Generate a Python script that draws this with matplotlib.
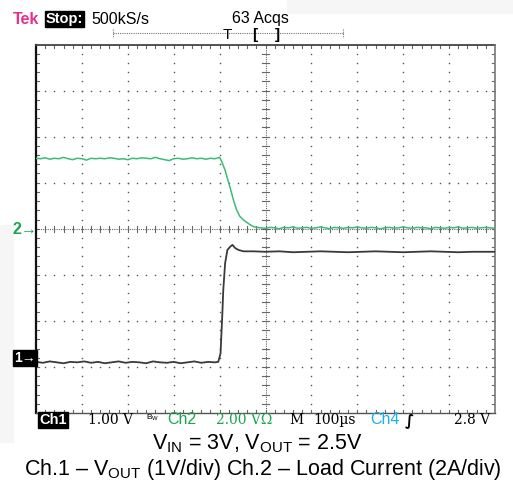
import matplotlib
matplotlib.use("Agg")
import matplotlib.pyplot as plt
import numpy as np

W, H = 513, 484
plt.rcParams['font.family'] = ['Liberation Sans', 'DejaVu Sans']
plt.rcParams['mathtext.fontset'] = 'custom'
plt.rcParams['mathtext.rm'] = 'Liberation Sans'
plt.rcParams['mathtext.it'] = 'Liberation Sans'

# ---- traces, in screen divisions (x: 0..10, y: -4..4, centre = 0)
ch2_t = [0.0, 0.1, 0.2, 0.3, 0.4, 0.5, 0.6, 0.7, 0.8, 0.9, 1.0, 1.1, 1.2, 1.3,
         1.4, 1.5, 1.6, 1.7, 1.8, 1.9, 2.0, 2.1, 2.2, 2.3, 2.4, 2.5, 2.6, 2.7,
         2.8, 2.9, 3.0, 3.1, 3.2, 3.3, 3.4, 3.5, 3.6, 3.7, 3.8, 3.9, 4.0,
         4.05, 4.12, 4.18, 4.23, 4.30, 4.37, 4.44, 4.52, 4.59, 4.66, 4.73, 4.80,
         4.9, 5.0, 5.1, 5.2, 5.3, 5.4, 5.5, 5.6, 5.7, 5.8, 5.9, 6.0, 6.1, 6.2,
         6.3, 6.4, 6.5, 6.6, 6.7, 6.8, 6.9, 7.0, 7.1, 7.2, 7.3, 7.4, 7.5, 7.6,
         7.7, 7.8, 7.9, 8.0, 8.1, 8.2, 8.3, 8.4, 8.5, 8.6, 8.7, 8.8, 8.9, 9.0,
         9.1, 9.2, 9.3, 9.4, 9.5, 9.6, 9.7, 9.8, 9.9, 10.0]
ch2_v = [1.53, 1.52, 1.54, 1.51, 1.53, 1.52, 1.55, 1.52, 1.50, 1.53, 1.52, 1.49,
         1.53, 1.52, 1.53, 1.52, 1.54, 1.53, 1.51, 1.52, 1.50, 1.53, 1.52, 1.54,
         1.53, 1.52, 1.55, 1.52, 1.50, 1.48, 1.52, 1.53, 1.51, 1.52, 1.54, 1.52,
         1.53, 1.51, 1.53, 1.52, 1.55,
         1.45, 1.27, 1.06, 0.89, 0.63, 0.41, 0.27, 0.19, 0.14, 0.09, 0.05, 0.03,
         0.02, 0.01, 0.03, 0.02, 0.00, 0.03, 0.02, 0.04, 0.01, 0.02, 0.03, 0.01,
         0.02, 0.04, 0.02, 0.00, 0.03, 0.02, 0.01, 0.03, 0.02, 0.04, 0.02, 0.01,
         0.03, 0.02, 0.00, 0.02, 0.03, 0.01, 0.02, 0.04, 0.02, 0.01, 0.03, 0.02,
         0.02, 0.00, 0.03, 0.02, 0.01, 0.03, 0.02, 0.04, 0.01, 0.02, 0.03, 0.01,
         0.02, 0.03, 0.02, 0.01]

ch1_t = [0.0, 0.15, 0.3, 0.45, 0.6, 0.75, 0.9, 1.05, 1.2, 1.35, 1.5, 1.65, 1.8,
         1.95, 2.1, 2.25, 2.4, 2.55, 2.7, 2.85, 3.0, 3.15, 3.3, 3.45, 3.6, 3.75,
         3.9, 3.97,
         4.02, 4.06, 4.08, 4.12, 4.17, 4.23, 4.28, 4.34, 4.41, 4.52, 4.73,
         5.0, 5.3, 5.6, 5.9, 6.2, 6.5, 6.8, 7.1, 7.4, 7.7, 8.0, 8.3, 8.6, 8.9,
         9.2, 9.5, 9.8, 10.0]
ch1_v = [-2.89, -2.91, -2.88, -2.90, -2.92, -2.89, -2.90, -2.88, -2.91, -2.89,
         -2.92, -2.90, -2.88, -2.91, -2.89, -2.90, -2.92, -2.88, -2.90, -2.91,
         -2.89, -2.92, -2.90, -2.88, -2.91, -2.89, -2.90, -2.89,
         -2.71, -1.84, -1.33, -0.75, -0.46, -0.39, -0.35, -0.42, -0.46, -0.49,
         -0.49,
         -0.50, -0.49, -0.51, -0.50, -0.49, -0.50, -0.51, -0.50, -0.49, -0.50,
         -0.51, -0.50, -0.49, -0.50, -0.51, -0.50, -0.50, -0.50]

ch2_color = '#3dbb78'
ch1_color = '#3a3a3a'

fig = plt.figure(figsize=(W / 100, H / 100), dpi=100)
fig.patch.set_facecolor('white')

def px(x, y):
    return x / W, 1 - y / H

# light gray background patches of the screenshot
fig.patches.append(plt.Rectangle(px(287, 13), (W - 287) / W, 13 / H, transform=fig.transFigure,
                                 color='#f6f6f6', zorder=0))
fig.patches.append(plt.Rectangle(px(0, 442), 13 / W, (442 - 225) / H, transform=fig.transFigure,
                                 color='#f6f6f6', zorder=0))

left, top, right, bottom = 36, 44.5, 495, 413
ax = fig.add_axes([left / W, 1 - bottom / H, (right - left) / W, (bottom - top) / H])
ax.set_xlim(0, 10)
ax.set_ylim(-4, 4)
ax.axis('off')

# graticule
dot = dict(ls='none', marker='s', ms=1.0, mew=0, color='#555555')
sub_x = np.arange(0, 10.01, 0.2)
sub_y = np.arange(-4, 4.01, 0.2)
for gx in range(1, 10):
    if gx == 5:
        continue
    ax.plot(np.full_like(sub_y, gx), sub_y, **dot)
for gy in range(-3, 4):
    if gy == 0:
        continue
    ax.plot(sub_x, np.full_like(sub_x, gy), **dot)
# centre lines, dense dots with ticks
ax.plot([5, 5], [-4, 4], color='#666666', lw=0.8, ls=(0, (1, 1)))
ax.plot([0, 10], [0, 0], color='#666666', lw=0.8, ls=(0, (1, 1)))
tk = 0.07
for s in sub_y:
    ax.plot([5 - tk, 5 + tk], [s, s], color='#666666', lw=0.8)
for s in sub_x:
    ax.plot([s, s], [-tk, tk], color='#666666', lw=0.8)
# border ticks
for s in sub_y:
    ax.plot([0, tk], [s, s], color='#666666', lw=0.8)
    ax.plot([10 - tk, 10], [s, s], color='#666666', lw=0.8)
for s in sub_x:
    ax.plot([s, s], [4 - tk, 4], color='#666666', lw=0.8)
    ax.plot([s, s], [-4, -4 + tk], color='#666666', lw=0.8)
# border
ax.plot([0, 0], [-4, 4], color='#111111', lw=1.6, clip_on=False)
ax.plot([0, 10], [4, 4], color='#444444', lw=1.3, clip_on=False)
ax.plot([10, 10], [-4, 4], color='#777777', lw=1.2, clip_on=False)
ax.plot([0, 10], [-4, -4], color='#555555', lw=1.0, clip_on=False)

# traces
ax.plot(ch2_t, ch2_v, color=ch2_color, lw=1.1, zorder=5)
ax.plot(ch1_t, ch1_v, color=ch1_color, lw=1.3, zorder=5)

# channel markers
fig.text(*px(25, 229.5), '2\u2192', color='#1aa64b', fontsize=11.5, fontweight='bold',
         ha='center', va='center')
fig.text(*px(25, 358), '1\u2192', color='white', fontsize=10, fontweight='bold',
         ha='center', va='center',
         bbox=dict(boxstyle='square,pad=0.08', fc='black', ec='black'))

# header
fig.text(*px(13, 19), 'Tek', color='#e8308a', fontsize=11.5, fontweight='bold', va='center')
fig.text(*px(46, 19), 'Stop:', color='white', fontsize=10.5, fontweight='bold', va='center',
         bbox=dict(boxstyle='square,pad=0.06', fc='black', ec='black'))
fig.text(*px(91, 19), '500kS/s', color='black', fontsize=11.5, va='center')
fig.text(*px(232, 19), '63 Acqs', color='black', fontsize=11.5, va='center')
fig.lines.append(plt.Line2D([113 / W, 343 / W], [1 - 33 / H] * 2, transform=fig.transFigure,
                            color='#777777', lw=0.8, ls=(0, (1, 1))))
for xe in (113, 343):
    fig.lines.append(plt.Line2D([xe / W] * 2, [1 - 29 / H, 1 - 38 / H], transform=fig.transFigure,
                                color='#777777', lw=0.8, ls=(0, (1, 1))))
fig.text(*px(227, 35), 'T', color='black', fontsize=11, ha='center', va='center')
fig.text(*px(255, 35), '[', color='black', fontsize=11, fontweight='bold', ha='center', va='center')
fig.text(*px(277, 35), ']', color='black', fontsize=11, fontweight='bold', ha='center', va='center')

# status bar
sy = 420
fig.text(*px(39, sy), 'Ch1', color='white', fontsize=10.5, fontweight='bold', va='center',
         bbox=dict(boxstyle='square,pad=0.08', fc='black', ec='black'))
serif = dict(va='center', family='DejaVu Serif', fontsize=10)
fig.text(*px(88, sy), '1.00 V', color='black', **serif)
fig.text(*px(146, sy - 2), 'B$_{\\rm W}$', color='black', fontsize=6, va='center')
fig.text(*px(167, sy), 'Ch2', color='#1aa650', fontsize=11.5, va='center')
fig.text(*px(216, sy), '2.00 V\u03a9', color='#1aa650', **serif)
fig.text(*px(289, sy), 'M', color='black', **serif)
fig.text(*px(313, sy), '100\u00b5s', color='black', **serif)
fig.text(*px(370, sy), 'Ch4', color='#1ab0e8', fontsize=11.5, va='center')
fig.text(*px(405, sy), '\u222b', color='black', fontsize=11, va='center', family='DejaVu Sans',
         fontweight='bold')
fig.text(*px(490, sy), '2.8 V', color='black', ha='right', **serif)

# caption
fig.text(*px(257, 449), 'V$_{\\rm IN}$ = 3V, V$_{\\rm OUT}$ = 2.5V', fontsize=15.5,
         ha='center', va='baseline')
fig.text(*px(263, 475), 'Ch.1 \u2013 V$_{\\rm OUT}$ (1V/div) Ch.2 \u2013 Load Current (2A/div)',
         fontsize=15.5, ha='center', va='baseline')

fig.savefig('out.png', dpi=100)
